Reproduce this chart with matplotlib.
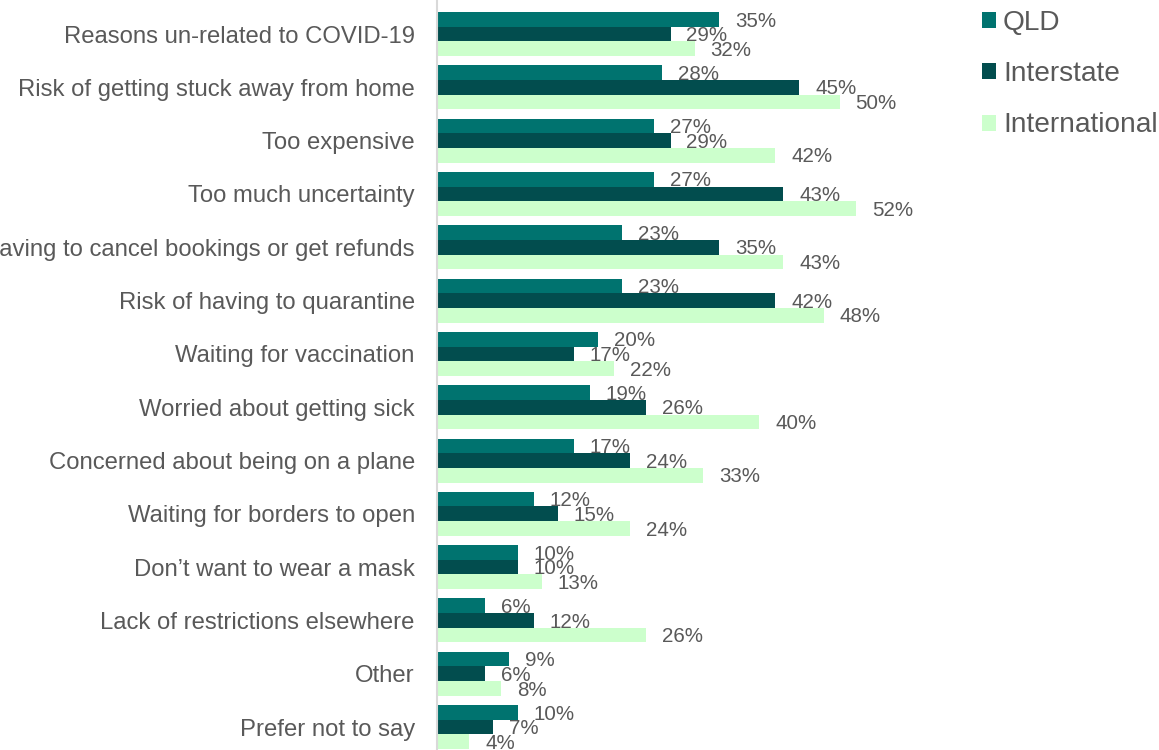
import matplotlib
matplotlib.use("Agg")
import matplotlib.pyplot as plt
import numpy as np
from matplotlib.patches import Patch

plt.rcParams['font.family'] = ['Liberation Sans', 'DejaVu Sans']

categories = [
    "Reasons un-related to COVID-19",
    "Risk of getting stuck away from home",
    "Too expensive",
    "Too much uncertainty",
    "Having to cancel bookings or get refunds",
    "Risk of having to quarantine",
    "Waiting for vaccination",
    "Worried about getting sick",
    "Concerned about being on a plane",
    "Waiting for borders to open",
    "Don\u2019t want to wear a mask",
    "Lack of restrictions elsewhere",
    "Other",
    "Prefer not to say",
]
qld = [35, 28, 27, 27, 23, 23, 20, 19, 17, 12, 10, 6, 9, 10]
interstate = [29, 45, 29, 43, 35, 42, 17, 26, 24, 15, 10, 12, 6, 7]
international = [32, 50, 42, 52, 43, 48, 22, 40, 33, 24, 13, 26, 8, 4]
series_names = ["QLD", "Interstate", "International"]
colors = ["#00736F", "#024D4E", "#CCFFCC"]
text_color = "#595959"

W, H = 1159, 750
fig = plt.figure(figsize=(W / 100, H / 100), dpi=100)
ax = fig.add_axes([437 / W, 0, (962 - 437) / W, 1])

y = np.arange(len(categories))
bh = 0.275
offsets = [-bh, 0, bh]
for vals, off, col, name in zip([qld, interstate, international], offsets, colors, series_names):
    bars = ax.barh(y + off, vals, height=bh, color=col, label=name)
    for b, v in zip(bars, vals):
        ax.annotate(f"{v}%", xy=(b.get_width(), b.get_y() + b.get_height() / 2),
                    xytext=(11.5, -1.2), textcoords="offset points",
                    ha="left", va="center", fontsize=14.8, color=text_color)

ax.set_xlim(0, 65.2)
ax.set_ylim(13.43, -0.638)
ax.set_yticks(y)
ax.set_yticklabels(categories, fontsize=17.2, color=text_color)
ax.tick_params(axis="y", length=0, pad=16)
ax.xaxis.set_visible(False)
for s in ["top", "right", "bottom"]:
    ax.spines[s].set_visible(False)
ax.spines["left"].set_color("#D9D9D9")
ax.spines["left"].set_linewidth(1.5)

handles = [Patch(facecolor=c, edgecolor="none") for c in colors]
leg = fig.legend(handles, series_names, loc="upper left",
                 bbox_to_anchor=(982 / W, 1 - 10 / H), frameon=False,
                 fontsize=20.2, handlelength=0.5, handleheight=0.5,
                 handletextpad=0.25, labelspacing=0.9, borderpad=0,
                 borderaxespad=0)
for t in leg.get_texts():
    t.set_color(text_color)

fig.savefig("out.png", dpi=100)
